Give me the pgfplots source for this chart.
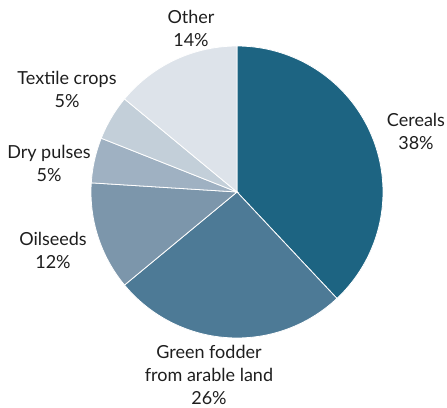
\documentclass[border=0pt]{standalone}
\usepackage{pgfplots}
\pgfplotsset{compat=1.18}
\usepackage{fontspec}
\setmainfont{Lato}
\definecolor{cCer}{HTML}{1D6482}
\definecolor{cGrn}{HTML}{4D7A96}
\definecolor{cOil}{HTML}{7C96AB}
\definecolor{cDry}{HTML}{9FB1C2}
\definecolor{cTex}{HTML}{C3CFD9}
\definecolor{cOth}{HTML}{DDE3EA}
\definecolor{txt}{HTML}{1E1E1E}
% percentages: Cereals 38, Green fodder 26, Oilseeds 12, Dry pulses 5, Textile crops 5, Other 14
\begin{document}
\begin{tikzpicture}
\begin{axis}[scale only axis, width=447pt, height=407pt,
  xmin=0, xmax=447, ymin=0, ymax=407, hide axis, clip=false]
\def\cx{237}\def\cy{215}\def\r{146}
\pgfplotsset{every axis plot/.append style={draw=white, line width=0.8pt, samples=80, no markers}}
% Cereals 38% (cumulative 0 -> 38)
\addplot[fill=cCer, domain={90-3.6*38}:{90-3.6*0}] ({\cx+\r*cos(x)},{\cy+\r*sin(x)}) -- (axis cs:\cx,\cy) -- cycle;
% Green fodder 26% (38 -> 64)
\addplot[fill=cGrn, domain={90-3.6*64}:{90-3.6*38}] ({\cx+\r*cos(x)},{\cy+\r*sin(x)}) -- (axis cs:\cx,\cy) -- cycle;
% Oilseeds 12% (64 -> 76)
\addplot[fill=cOil, domain={90-3.6*76}:{90-3.6*64}] ({\cx+\r*cos(x)},{\cy+\r*sin(x)}) -- (axis cs:\cx,\cy) -- cycle;
% Dry pulses 5% (76 -> 81)
\addplot[fill=cDry, domain={90-3.6*81}:{90-3.6*76}] ({\cx+\r*cos(x)},{\cy+\r*sin(x)}) -- (axis cs:\cx,\cy) -- cycle;
% Textile crops 5% (81 -> 86)
\addplot[fill=cTex, domain={90-3.6*86}:{90-3.6*81}] ({\cx+\r*cos(x)},{\cy+\r*sin(x)}) -- (axis cs:\cx,\cy) -- cycle;
% Other 14% (86 -> 100)
\addplot[fill=cOth, domain={90-3.6*100}:{90-3.6*86}] ({\cx+\r*cos(x)},{\cy+\r*sin(x)}) -- (axis cs:\cx,\cy) -- cycle;
\tikzset{lab/.style={align=center, text=txt, font=\fontsize{18}{23}\selectfont, inner sep=0pt}}
\node[lab] at (axis cs:191,378.5) {Other\\14\%};
\node[lab] at (axis cs:67,317.5) {Textile crops\\5\%};
\node[lab] at (axis cs:49,244) {Dry pulses\\5\%};
\node[lab] at (axis cs:53,156.5) {Oilseeds\\12\%};
\node[lab] at (axis cs:209,32) {Green fodder\\from arable land\\26\%};
\node[lab] at (axis cs:416,275.5) {Cereals\\38\%};
\end{axis}
\pgfresetboundingbox
\path (current axis.south west) rectangle (current axis.north east);
\end{tikzpicture}
\end{document}
